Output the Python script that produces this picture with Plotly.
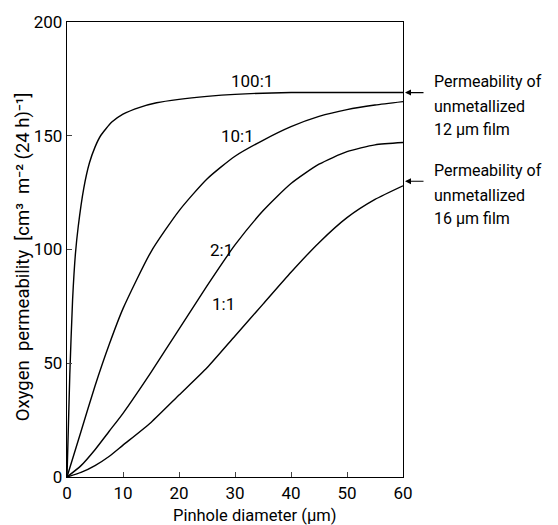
import plotly.graph_objects as go

x_100 = [0, 0.5, 1, 1.5, 2, 3, 4, 5, 6, 8, 10, 13, 16, 20, 25, 30, 40, 50, 60]
ratio_100 = [0, 45, 78, 98, 110, 127, 138, 145, 150, 156, 159.5, 162.5, 164.5, 166, 167.3, 168.2, 169, 169, 169]
x_main = [0, 2.5, 5, 7.5, 10, 15, 20, 25, 30, 35, 40, 45, 50, 55, 60]
ratio_10 = [0, 20, 40, 58, 74, 99, 117, 131, 141, 148, 154, 158.5, 161.5, 163.5, 165]
ratio_2 = [0, 5, 12, 20, 28, 46, 65, 84, 102, 117, 129, 137.5, 143, 146, 147]
ratio_1 = [0, 2, 5, 9, 14, 24, 36, 48, 62, 76, 90, 103, 114, 122, 128]

curve_labels = ["100:1", "10:1", "2:1", "1:1"]
label_pos = [(33, 174), (30.5, 150), (27.5, 100), (28, 76)]

ref_values = [169, 130]
ref_lines = [["Permeability of", "unmetallized", "12 µm film"],
             ["Permeability of", "unmetallized", "16 µm film"]]

x_ticks = [0, 10, 20, 30, 40, 50, 60]
y_ticks = [0, 50, 100, 150, 200]

FONT = "Roboto"
NB = "\u00a0"
fig = go.Figure()
line = dict(color="black", width=1.4, shape="spline", smoothing=0.6)
fig.add_trace(go.Scatter(x=x_100, y=ratio_100, mode="lines", line=line, showlegend=False))
for ys in (ratio_10, ratio_2, ratio_1):
    fig.add_trace(go.Scatter(x=x_main, y=ys, mode="lines", line=line, showlegend=False))

for txt, (lx, ly) in zip(curve_labels, label_pos):
    fig.add_annotation(x=lx, y=ly, text=txt, showarrow=False,
                       font=dict(family=FONT, size=17, color="black"))

line_offsets = [11, -14, -37]
for v, lines in zip(ref_values, ref_lines):
    fig.add_annotation(x=60, y=v, xref="x", yref="y", ax=22, ay=0,
                       text="", showarrow=True, arrowhead=2, arrowsize=1,
                       arrowwidth=1.2, arrowcolor="black", standoff=2)
    for t, off in zip(lines, line_offsets):
        fig.add_annotation(x=60, y=v, xref="x", yref="y", xshift=29, yshift=off,
                           text=t, showarrow=False, xanchor="left", yanchor="middle",
                           align="left", font=dict(family=FONT, size=16, color="black"))

ytitle = ("Oxygen" + NB * 2 + "permeability" + NB * 2 + "[cm³" + NB * 2 + "m⁻²" + NB
          + "(24" + NB + "h)⁻¹]")
xtitle = "Pinhole diameter (µm)"

# axis titles placed as annotations to match the reference's offset positions
fig.add_annotation(xref="paper", yref="paper", x=0.557, y=0, yshift=-38,
                   text=xtitle, showarrow=False, xanchor="center", yanchor="middle",
                   font=dict(family=FONT, size=16.5, color="black"))
fig.add_annotation(xref="paper", yref="paper", x=0, y=0.483, xshift=-44,
                   text=ytitle, showarrow=False, textangle=-90,
                   xanchor="center", yanchor="middle",
                   font=dict(family=FONT, size=18.5, color="black"))

fig.update_layout(
    width=558, height=525,
    margin=dict(l=67, r=155, t=17, b=48),
    paper_bgcolor="white", plot_bgcolor="white",
    font=dict(family=FONT, size=16, color="black"),
    xaxis=dict(range=[0, 60], tickvals=x_ticks, ticks="inside", ticklen=5,
               tickwidth=1, showgrid=False, zeroline=False, showline=True,
               linecolor="black", linewidth=1.4, mirror=True,
               tickfont=dict(size=17)),
    yaxis=dict(range=[0, 200], tickvals=y_ticks, ticks="inside", ticklen=5,
               tickwidth=1, showgrid=False, zeroline=False, showline=True,
               linecolor="black", linewidth=1.4, mirror=True,
               tickfont=dict(size=17)),
)

fig.write_html("out.html")
